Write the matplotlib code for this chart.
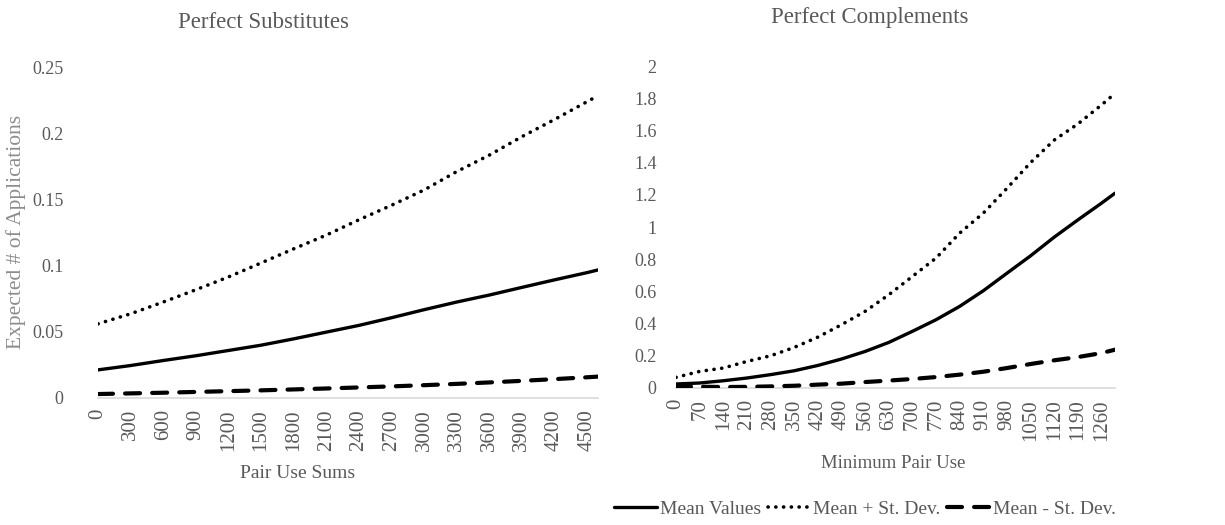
import numpy as np
import matplotlib
matplotlib.use("Agg")
import matplotlib.pyplot as plt
from matplotlib.lines import Line2D

plt.rcParams['font.family'] = ['Liberation Serif', 'DejaVu Serif']

# substitutes: pair use sums vs expected number of applications
sub_x = [0, 300, 600, 900, 1200, 1500, 1800, 2100, 2400, 2700, 3000,
         3300, 3600, 3900, 4200, 4500, 4600]
sub_mean = [0.0213, 0.0246, 0.0284, 0.032, 0.036, 0.040, 0.0448, 0.0499, 0.055,
            0.0608, 0.0669, 0.0727, 0.078, 0.0838, 0.0895, 0.095, 0.097]
sub_upper = [0.0562, 0.0638, 0.0727, 0.082, 0.0917, 0.1023, 0.113, 0.1234, 0.135,
             0.146, 0.1576, 0.1715, 0.184, 0.198, 0.211, 0.2245, 0.229]
sub_lower = [0.003, 0.0035, 0.004, 0.0046, 0.0052, 0.0058, 0.0065, 0.0072, 0.008,
             0.0088, 0.0097, 0.0107, 0.0118, 0.013, 0.0143, 0.0157, 0.0162]
sub_ticks = list(range(0, 4501, 300))

# complements: minimum pair use
comp_x = [0, 70, 140, 210, 280, 350, 420, 490, 560, 630, 700, 770, 840,
          910, 980, 1050, 1120, 1190, 1260, 1300]
comp_mean = [0.025, 0.031, 0.045, 0.062, 0.083, 0.107, 0.14, 0.18, 0.227, 0.283,
             0.352, 0.424, 0.507, 0.604, 0.713, 0.821, 0.937, 1.044, 1.148, 1.21]
comp_upper = [0.066, 0.103, 0.124, 0.165, 0.2, 0.252, 0.316, 0.393, 0.476, 0.579,
              0.693, 0.807, 0.962, 1.086, 1.24, 1.40, 1.54, 1.64, 1.758, 1.83]
comp_lower = [0.01, 0.008, 0.006, 0.007, 0.01, 0.014, 0.021, 0.027, 0.037, 0.046,
              0.056, 0.068, 0.083, 0.101, 0.124, 0.149, 0.172, 0.192, 0.217, 0.238]
comp_ticks = list(range(0, 1261, 70))

text_col = '#595959'
W, H = 1225, 525

fig = plt.figure(figsize=(12.25, 5.25), dpi=100)

solid = dict(color='black', lw=2.4, solid_capstyle='round')
dotted = dict(color='black', lw=2.6, linestyle=(0, (0.05, 2.1)), dash_capstyle='round')
dashed = dict(color='black', lw=3.0, linestyle=(0, (3.6, 2.9)), dash_capstyle='round')


def style_axes(ax, ticks, xmax, ymax, ystep, ypad):
    ax.set_xlim(0, xmax)
    ax.set_ylim(0, ymax)
    ax.set_xticks(ticks)
    ax.set_xticklabels([str(t) for t in ticks], rotation=90, fontsize=15, color=text_col)
    yt = np.round(np.arange(0, ymax + ystep / 2, ystep), 3)
    ax.set_yticks(yt)
    ax.set_yticklabels([f'{v:g}' for v in yt], fontsize=13, color=text_col)
    ax.tick_params(axis='both', length=0)
    ax.tick_params(axis='x', pad=8)
    ax.tick_params(axis='y', pad=ypad)
    for s in ['top', 'right', 'left']:
        ax.spines[s].set_visible(False)
    ax.spines['bottom'].set_color('#d9d9d9')
    ax.spines['bottom'].set_linewidth(1.2)
    ax.spines['bottom'].set_zorder(0)


ax1 = fig.add_axes([98 / W, 1 - 398 / H, 500 / W, 330 / H])
ax1.plot(sub_x, sub_upper, **dotted)
ax1.plot(sub_x, sub_mean, **solid)
ax1.plot(sub_x, sub_lower, **dashed)
style_axes(ax1, sub_ticks, 4600, 0.25, 0.05, 25)
fig.text(16 / W, 1 - 232 / H, 'Expected # of Applications', rotation=90,
         ha='center', va='center', fontsize=15.5, color='#8c8c8c')
fig.text(263 / W, 1 - 22 / H, 'Perfect Substitutes', ha='center', va='center',
         fontsize=16.5, color=text_col)
fig.text(298 / W, 1 - 473 / H, 'Pair Use Sums', ha='center', va='center',
         fontsize=14, color=text_col)

ax2 = fig.add_axes([676 / W, 1 - 388 / H, 439 / W, 322 / H])
ax2.plot(comp_x, comp_upper, **dotted)
ax2.plot(comp_x, comp_mean, **solid)
ax2.plot(comp_x, comp_lower, **dashed)
style_axes(ax2, comp_ticks, 1300, 2.0, 0.2, 14)
fig.text(870 / W, 1 - 17 / H, 'Perfect Complements', ha='center', va='center',
         fontsize=16.5, color=text_col)
fig.text(893 / W, 1 - 464 / H, 'Minimum Pair Use', ha='center', va='center',
         fontsize=13.5, color=text_col)

handles = [Line2D([], [], **solid), Line2D([], [], **dotted), Line2D([], [], **dashed)]
labels = ['Mean Values', 'Mean + St. Dev.', 'Mean - St. Dev.']
leg = fig.legend(handles, labels, loc='center', bbox_to_anchor=(865 / W, 1 - 509 / H),
                 ncol=3, frameon=False, fontsize=14, handlelength=2.2,
                 handletextpad=0.15, columnspacing=0.35, borderpad=0)
for t in leg.get_texts():
    t.set_color(text_col)

fig.savefig('out.png', dpi=100)
